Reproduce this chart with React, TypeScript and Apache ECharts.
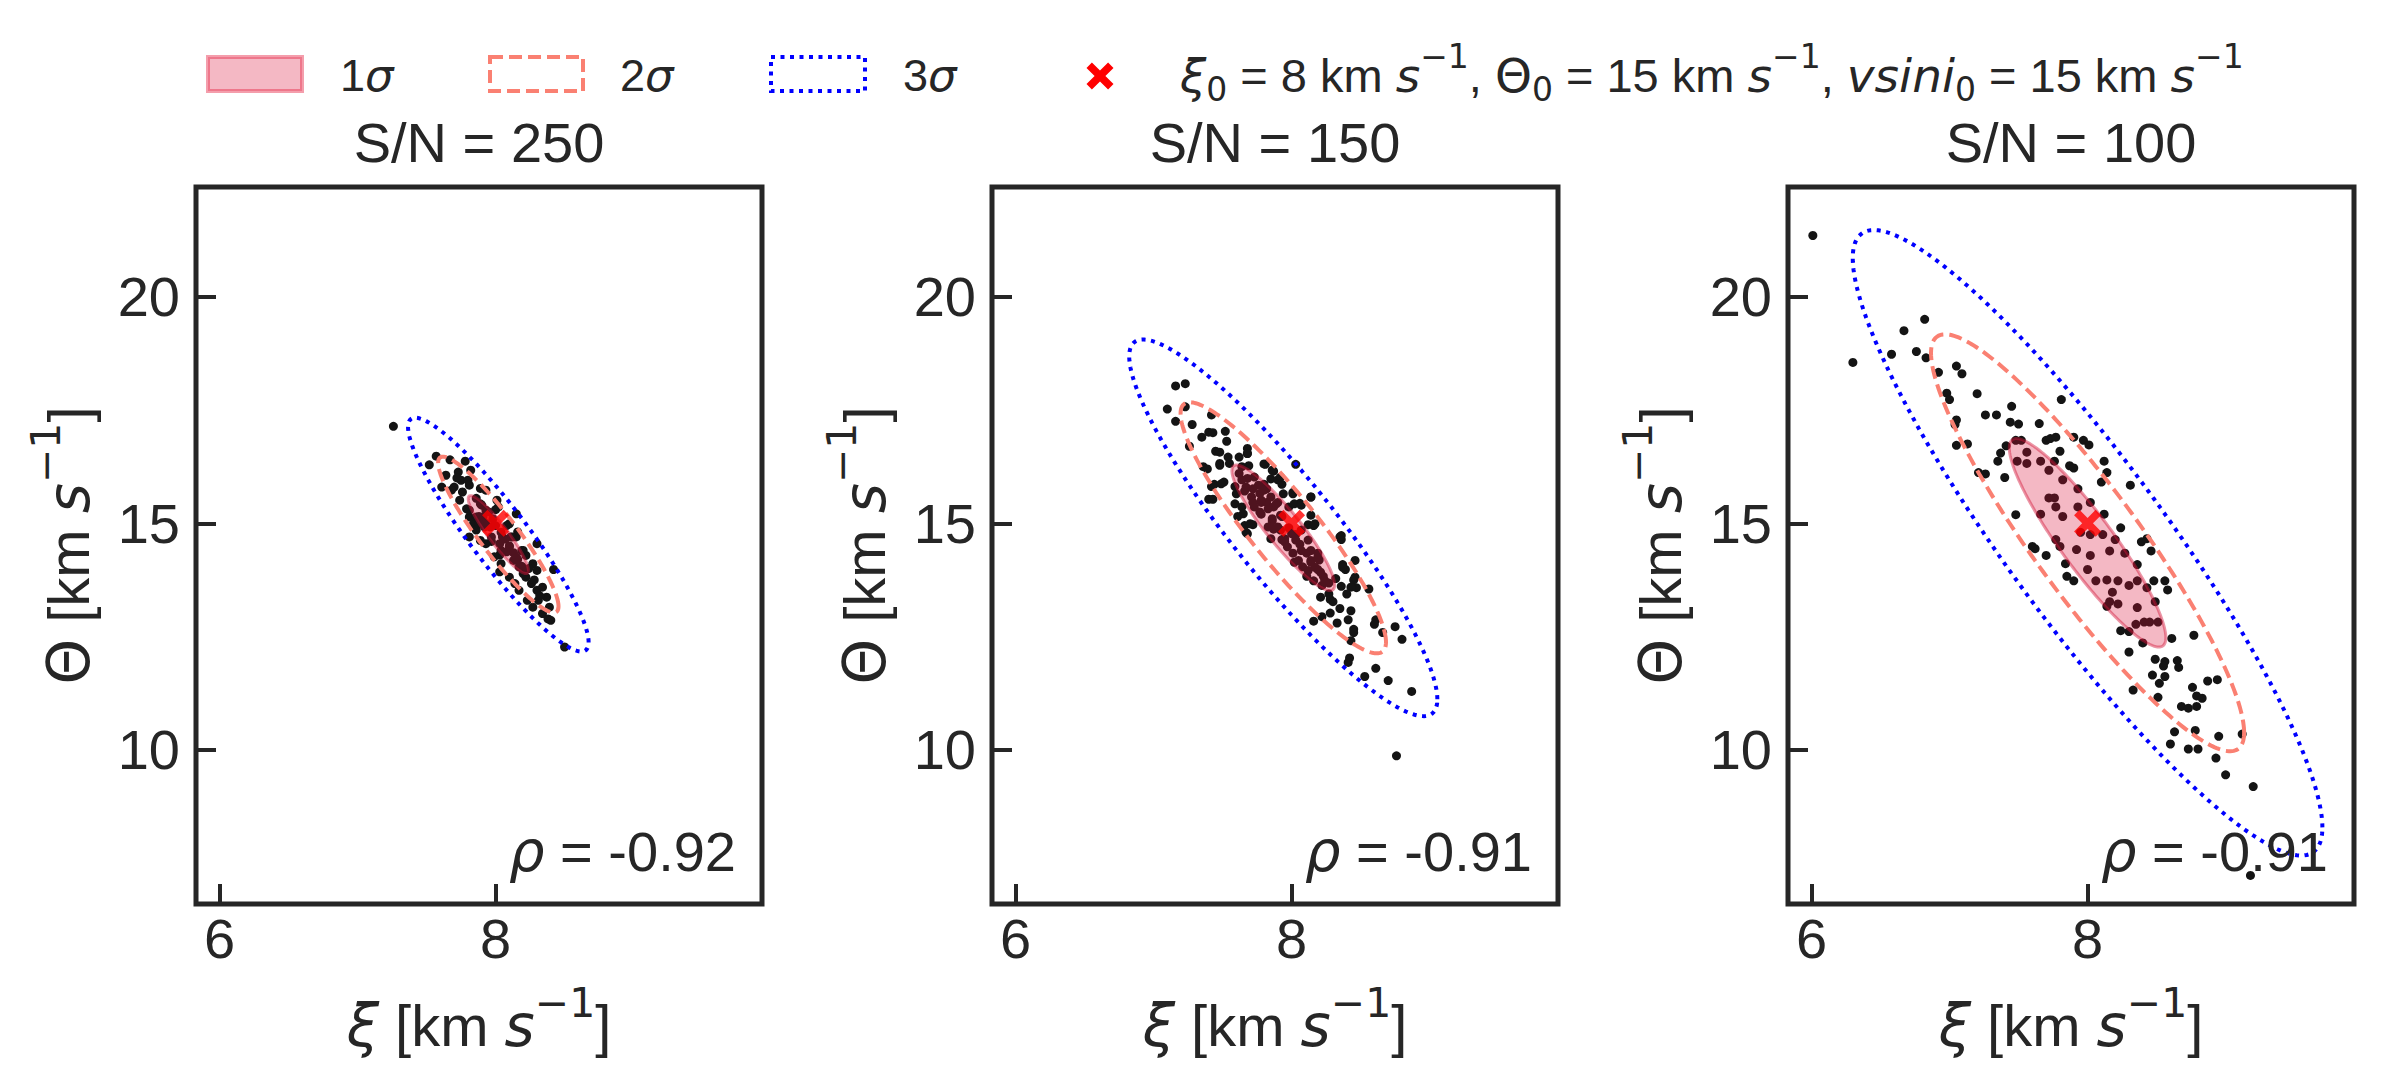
import React, { useEffect, useRef } from 'react';
import * as echarts from 'echarts';

const W = 2384;
const H = 1090;
const INK = '#262626';
const SANS = '"Liberation Sans", Arial, sans-serif';
const MATH = '"DejaVu Sans", sans-serif';

// ---- data ----
const panelTitles = ['S/N = 250', 'S/N = 150', 'S/N = 100'];
const rhoLabels = ['-0.92', '-0.91', '-0.91'];
const xTicks = [6, 8];
const yTicks = [10, 15, 20];
const xRange = [5.83, 9.93];
const yRange = [6.6, 22.42];
const truthPoint = [8, 15];
const sigmaLevels = [1, 2, 3];

// confidence-ellipse parameters per panel
const ellCenterX = [8.02, 7.94, 8.0];
const ellCenterY = [14.75, 14.9, 14.57];
const ellSigmaX = [0.218, 0.372, 0.567];
const ellSigmaY = [0.86, 1.385, 2.3];
const ellRho = [-0.92, -0.91, -0.91];

const samples250 = [
  [7.26, 17.14], [7.57, 16.48], [7.52, 16.29], [7.67, 16.4], [7.78, 16.37], [7.82, 16.17],
  [7.64, 16.06], [7.73, 16.13], [7.75, 15.95], [7.7, 15.8], [7.68, 15.73], [7.61, 15.8],
  [7.76, 15.69], [7.81, 15.84], [7.89, 15.77], [7.93, 15.73], [7.74, 15.51], [7.79, 15.32],
  [7.81, 15.14], [7.84, 14.99], [7.81, 14.7], [7.86, 14.85], [8.01, 15.51], [8.02, 15.36],
  [8.15, 15.21], [8.1, 14.99], [8.16, 14.81], [8.15, 14.7], [8.3, 14.55], [8.22, 14.29],
  [8.27, 14.11], [8.3, 13.96], [8.42, 13.98], [8.03, 13.93], [8.1, 13.81], [8.14, 13.67],
  [8.17, 13.52], [8.26, 13.67], [8.3, 13.52], [8.34, 13.59], [8.23, 13.3], [8.27, 13.15],
  [8.31, 13.3], [8.37, 13.37], [8.39, 13.15], [8.34, 13.01], [8.38, 12.89], [8.4, 12.86],
  [8.5, 12.27], [7.89, 15.43], [7.93, 15.29], [7.91, 15.14], [7.96, 14.92], [8.05, 14.7],
  [8.1, 14.48], [8.15, 14.26], [8.04, 14.4], [7.89, 14.62], [8.2, 13.96], [8.22, 13.81],
  [7.86, 15.55], [7.9, 15.4], [7.95, 15.25], [7.98, 15.1], [8.0, 14.95], [8.04, 14.8],
  [8.07, 14.65], [8.1, 14.5], [8.13, 14.35], [8.16, 14.2], [8.19, 14.05], [7.93, 15.0],
  [8.08, 14.95], [7.97, 14.6], [8.12, 14.7], [8.03, 14.3], [8.2, 14.4], [7.88, 15.15],
  [8.24, 14.0], [8.0, 15.3], [7.72, 16.0], [7.8, 15.95], [8.28, 13.75], [8.32, 13.4],
  [7.81, 15.29], [7.86, 15.14], [7.92, 14.92], [7.97, 14.7], [8.03, 14.55], [8.08, 14.37],
  [8.13, 14.18], [8.17, 14.04], [8.2, 13.89], [7.93, 14.55], [7.99, 14.26], [8.04, 14.11],
  [7.88, 14.99], [8.11, 14.7], [8.19, 14.4],
];

const samples150 = [
  [7.16, 18.03], [7.23, 18.08], [7.1, 17.52], [7.23, 17.57], [7.16, 17.25], [7.28, 17.18],
  [7.42, 17.39], [7.4, 17.01], [7.43, 17.0], [7.52, 17.03], [7.26, 16.7], [7.35, 16.9],
  [7.45, 16.59], [7.48, 16.57], [7.53, 16.81], [7.68, 16.65], [7.68, 16.54], [7.36, 16.25],
  [7.39, 16.2], [7.48, 16.32], [7.55, 16.32], [7.64, 16.25], [7.69, 16.27], [7.81, 16.3],
  [7.87, 16.15], [8.03, 16.3], [7.42, 15.81], [7.44, 15.86], [7.51, 15.91], [7.4, 15.53],
  [7.43, 15.53], [7.59, 15.81], [7.64, 15.96], [7.85, 15.98], [7.9, 15.96], [7.93, 15.86],
  [7.61, 15.15], [7.64, 15.36], [7.72, 15.46], [7.66, 14.95], [7.72, 14.97], [7.68, 14.77],
  [7.8, 15.86], [8.01, 15.68], [8.06, 15.44], [8.14, 15.58], [7.98, 15.36], [7.85, 14.66],
  [7.87, 14.87], [8.12, 14.97], [8.16, 14.95], [8.19, 14.34], [8.35, 14.7], [8.36, 14.64],
  [8.37, 14.09], [8.39, 13.98], [8.32, 13.78], [8.36, 13.61], [8.45, 13.75], [8.47, 13.58],
  [8.56, 13.55], [8.28, 13.32], [8.3, 13.27], [8.35, 13.12], [8.43, 13.07], [8.41, 12.87],
  [8.22, 12.94], [8.16, 12.84], [8.28, 13.02], [8.33, 12.8], [8.45, 12.66], [8.45, 12.59],
  [8.61, 12.87], [8.6, 12.77], [8.66, 12.59], [8.75, 12.72], [8.8, 12.44], [8.43, 12.41],
  [8.42, 12.03], [8.41, 11.93], [8.61, 11.8], [8.53, 11.62], [8.7, 11.53], [8.87, 11.29],
  [8.76, 9.87],
  [7.72, 15.76], [7.77, 15.66], [7.82, 15.46], [7.87, 15.36], [7.93, 15.15], [7.98, 14.9],
  [8.03, 14.75], [8.06, 14.54], [8.11, 14.34], [8.14, 14.14], [8.19, 13.98], [8.23, 13.83],
  [8.27, 13.68], [7.73, 15.36], [7.78, 15.2], [7.86, 15.05], [7.95, 14.59], [8.02, 14.14],
  [8.08, 14.04], [8.16, 13.73], [8.22, 13.63], [7.66, 15.71], [7.82, 15.76], [7.9, 15.46],
  [7.78, 15.46], [7.93, 14.64], [8.01, 14.34], [8.2, 14.19], [8.11, 13.83],
  [7.62, 16.1], [7.68, 15.99], [7.73, 16.02], [7.67, 15.8], [7.76, 15.84], [7.8, 15.73],
  [7.71, 15.58], [7.78, 15.51], [7.85, 15.58], [7.83, 15.32], [7.89, 15.43], [7.77, 15.25],
  [7.86, 15.1], [7.92, 15.18], [7.83, 14.92], [7.92, 14.85], [8.0, 14.77], [8.07, 14.85],
  [8.03, 14.63], [8.12, 14.63], [7.97, 14.48], [8.07, 14.4], [8.14, 14.4], [8.05, 14.18],
  [8.14, 14.18], [8.19, 14.25], [8.17, 14.03], [8.21, 13.92], [8.24, 13.74], [8.12, 13.96],
  [7.95, 14.66], [7.9, 14.92],
  [7.48, 16.28], [7.54, 16.46], [7.62, 16.46], [7.68, 16.54], [7.49, 15.87], [7.6, 15.65],
  [7.59, 15.43], [7.65, 15.21], [7.7, 14.99], [7.67, 14.8], [7.8, 16.31], [7.86, 16.17],
  [7.92, 16.02], [7.94, 15.65], [8.01, 15.65], [8.02, 15.43], [8.07, 15.4], [8.14, 15.58],
  [8.14, 15.18], [8.17, 14.99], [8.36, 14.73], [8.37, 14.03], [8.46, 13.81], [8.43, 13.59],
  [8.4, 13.44], [8.21, 13.37], [8.27, 13.44], [8.46, 14.18],
];

const samples100 = [
  [6.01, 21.35], [6.3, 18.55], [6.58, 18.73], [6.67, 19.25], [6.82, 19.5], [6.76, 18.79],
  [6.83, 18.65], [6.92, 18.33], [7.05, 18.47], [7.09, 18.3], [6.98, 17.87], [7.0, 17.73],
  [7.2, 17.86], [7.05, 17.28], [7.04, 17.18], [7.13, 16.75], [7.05, 16.72], [7.26, 17.39],
  [7.34, 17.39], [7.45, 17.58], [7.44, 17.23], [7.5, 17.19], [7.65, 17.2], [7.81, 17.73],
  [7.21, 16.12], [7.26, 16.09], [7.35, 16.37], [7.37, 16.55], [7.41, 16.71], [7.4, 16.01],
  [7.48, 16.83], [7.52, 16.83], [7.7, 16.83], [7.73, 16.87], [7.77, 16.9], [7.8, 16.59],
  [7.9, 16.9], [7.97, 16.83], [8.01, 16.73], [7.87, 16.27], [7.9, 16.22], [8.12, 16.37],
  [8.14, 16.12], [8.1, 15.91], [8.31, 15.84], [7.56, 16.57], [7.49, 16.37], [7.56, 16.32],
  [7.66, 16.37], [7.72, 16.17], [7.76, 16.37], [7.82, 15.96], [7.93, 15.76], [7.76, 15.56],
  [7.77, 15.36], [7.72, 15.56], [7.66, 15.2], [7.48, 15.19], [7.82, 15.15], [7.93, 15.36],
  [8.02, 15.46], [8.12, 15.2], [8.24, 14.9], [8.2, 14.64], [8.11, 14.75], [8.02, 14.75],
  [7.95, 14.8], [7.77, 14.64], [7.8, 14.49], [7.62, 14.44], [7.6, 14.49], [7.7, 14.29],
  [7.92, 14.42], [8.02, 14.29], [8.16, 14.39], [8.27, 14.34], [8.36, 14.09], [8.39, 14.59],
  [8.43, 14.66], [8.46, 14.39], [7.84, 14.11], [7.85, 13.83], [7.9, 13.73], [8.0, 13.98],
  [8.06, 13.73], [8.14, 13.75], [8.22, 13.73], [8.18, 13.48], [8.3, 13.63], [8.36, 13.73],
  [8.43, 13.58], [8.48, 13.73], [8.56, 13.73], [8.58, 13.53], [8.49, 13.27], [8.14, 13.17],
  [8.16, 13.27], [8.22, 13.22], [8.36, 13.14], [8.41, 12.82], [8.45, 12.82], [8.51, 12.82],
  [8.35, 12.77], [8.24, 12.63], [8.3, 12.61], [8.4, 12.36], [8.61, 12.46], [8.77, 12.53],
  [8.3, 12.16], [8.49, 12.0], [8.56, 11.95], [8.65, 11.97], [8.55, 11.85], [8.66, 11.82],
  [8.47, 11.65], [8.56, 11.62], [8.52, 11.47], [8.51, 11.16], [8.33, 11.32], [8.76, 11.38],
  [8.87, 11.52], [8.94, 11.55], [8.79, 11.19], [8.83, 11.14], [8.68, 10.96], [8.73, 10.92],
  [8.79, 10.96], [8.63, 10.4], [8.78, 10.43], [8.6, 10.13], [8.73, 10.02], [8.8, 10.02],
  [8.95, 10.3], [8.93, 9.82], [9.12, 10.35], [9.0, 9.45], [9.2, 9.19], [9.18, 7.23],
];

const panelSamples = [samples250, samples150, samples100];

// ---- layout (pixels) ----
const gridLeft = [196, 992, 1788];
const gridTop = 187;
const gridW = 566;
const gridH = 717;

const X_PATH = 'path://M2,0L5,3L8,0L10,2L7,5L10,8L8,10L5,7L2,10L0,8L3,5L0,2Z';

const levelStyle = [
  { fill: 'rgba(220,20,60,0.3)', stroke: 'rgba(210,20,55,0.45)', lineWidth: 3, lineDash: null as any },
  { fill: 'none', stroke: '#fa8072', lineWidth: 4, lineDash: [13, 6] },
  { fill: 'none', stroke: '#0000ff', lineWidth: 4, lineDash: [4, 5.5] },
];

function rich(size: number) {
  const s = Math.round(size * 0.7);
  return {
    i: { fontFamily: MATH, fontStyle: 'italic', fontSize: size, color: INK },
    u: { fontFamily: MATH, fontSize: size, color: INK },
    sup: { fontFamily: MATH, fontSize: s, color: INK, padding: [0, 0, Math.round(size * 0.8), 0] },
    sub: { fontFamily: MATH, fontSize: s, color: INK, padding: [Math.round(size * 0.6), 0, 0, 0] },
  };
}

function buildOption() {
  const grid = gridLeft.map((l) => ({
    left: l,
    top: gridTop,
    width: gridW,
    height: gridH,
    show: true,
    borderColor: INK,
    borderWidth: 5,
    backgroundColor: 'transparent',
  }));

  const axisFont = { fontFamily: SANS, fontSize: 56, color: INK };

  const xAxis = gridLeft.map((_, i) => ({
    gridIndex: i,
    type: 'value',
    min: xRange[0],
    max: xRange[1],
    axisLine: { show: false },
    splitLine: { show: false },
    axisTick: { show: true, inside: true, length: 20, lineStyle: { color: INK, width: 4 }, customValues: xTicks },
    axisLabel: { show: true, customValues: xTicks, margin: 6, ...axisFont },
    name: '{i|ξ} [km {i|s}{sup|−1}]',
    nameLocation: 'middle',
    nameGap: 78,
    nameTextStyle: { fontFamily: SANS, fontSize: 58, color: INK, rich: rich(58) },
  }));

  const yAxis = gridLeft.map((_, i) => ({
    gridIndex: i,
    type: 'value',
    min: yRange[0],
    max: yRange[1],
    axisLine: { show: false },
    splitLine: { show: false },
    axisTick: { show: true, inside: true, length: 20, lineStyle: { color: INK, width: 4 }, customValues: yTicks },
    axisLabel: { show: true, customValues: yTicks, margin: 16, ...axisFont },
    name: '{u|Θ} [km {i|s}{sup|−1}]',
    nameLocation: 'middle',
    nameRotate: 90,
    nameGap: 84,
    nameTextStyle: { fontFamily: SANS, fontSize: 58, color: INK, rich: rich(58) },
  }));

  const series: any[] = [];
  gridLeft.forEach((_, i) => {
    series.push({
      type: 'scatter',
      xAxisIndex: i,
      yAxisIndex: i,
      data: panelSamples[i],
      symbolSize: 9,
      itemStyle: { color: '#141414', opacity: 1 },
      silent: true,
      z: 2,
    });
    sigmaLevels.forEach((n, k) => {
      const st = levelStyle[k];
      series.push({
        type: 'custom',
        xAxisIndex: i,
        yAxisIndex: i,
        data: [[ellCenterX[i], ellCenterY[i]]],
        silent: true,
        clip: false,
        z: 3 + (2 - k) * 0.1,
        renderItem: (params: any, api: any) => {
          const cx = api.value(0);
          const cy = api.value(1);
          const sx = ellSigmaX[i];
          const sy = ellSigmaY[i];
          const r = ellRho[i];
          const pts: number[][] = [];
          const N = 240;
          for (let j = 0; j < N; j++) {
            const t = (j / N) * Math.PI * 2;
            const u = n * Math.cos(t);
            const v = n * (r * Math.cos(t) + Math.sqrt(1 - r * r) * Math.sin(t));
            pts.push(api.coord([cx + sx * u, cy + sy * v]));
          }
          return {
            type: 'polygon',
            shape: { points: pts },
            style: {
              fill: st.fill,
              stroke: st.stroke,
              lineWidth: st.lineWidth,
              lineDash: st.lineDash || undefined,
              lineCap: 'butt',
            },
          };
        },
      });
    });
    series.push({
      type: 'scatter',
      xAxisIndex: i,
      yAxisIndex: i,
      data: [truthPoint],
      symbol: X_PATH,
      symbolSize: 27,
      itemStyle: { color: '#ff0000' },
      silent: true,
      z: 5,
    });
  });

  const graphic: any[] = [];
  gridLeft.forEach((l, i) => {
    graphic.push({
      type: 'text',
      x: l + gridW / 2,
      y: 142,
      style: { text: panelTitles[i], fontFamily: SANS, fontSize: 56, fill: INK, align: 'center', verticalAlign: 'middle' },
      z: 10,
    });
    graphic.push({
      type: 'text',
      x: l + gridW - 26,
      y: 851,
      style: {
        text: '{i|ρ} = ' + rhoLabels[i],
        fontFamily: SANS,
        fontSize: 56,
        fill: INK,
        align: 'right',
        verticalAlign: 'middle',
        rich: rich(56),
      },
      z: 10,
    });
  });

  // legend
  const legY = 57;
  const legH = 34;
  graphic.push({
    type: 'rect',
    shape: { x: 208, y: legY, width: 94, height: legH },
    style: { fill: 'rgba(220,20,60,0.3)', stroke: 'rgba(230,40,70,0.45)', lineWidth: 4 },
  });
  graphic.push({
    type: 'rect',
    shape: { x: 490, y: legY, width: 93, height: legH },
    style: { fill: 'none', stroke: '#fa8072', lineWidth: 4, lineDash: [13, 6] },
  });
  graphic.push({
    type: 'rect',
    shape: { x: 771, y: legY, width: 94, height: legH },
    style: { fill: 'none', stroke: '#0000ff', lineWidth: 4, lineDash: [4, 5.5] },
  });
  const legLabels = ['1', '2', '3'];
  const legTextX = [340, 620, 903];
  legLabels.forEach((d, k) => {
    graphic.push({
      type: 'text',
      x: legTextX[k],
      y: 75,
      style: {
        text: d + '{i|σ}',
        fontFamily: SANS,
        fontSize: 45,
        fill: INK,
        align: 'left',
        verticalAlign: 'middle',
        rich: rich(45),
      },
    });
  });
  // red x legend marker
  const mx = 1100;
  const my = 76;
  const ms = 2.7;
  const xShape = [[2, 0], [5, 3], [8, 0], [10, 2], [7, 5], [10, 8], [8, 10], [5, 7], [2, 10], [0, 8], [3, 5], [0, 2]];
  graphic.push({
    type: 'polygon',
    shape: { points: xShape.map(([a, b]) => [mx + (a - 5) * ms, my + (b - 5) * ms]) },
    style: { fill: '#ff0000' },
  });
  graphic.push({
    type: 'text',
    x: 1180,
    y: 75,
    style: {
      text:
        '{i|ξ}{sub|0} = 8 km {i|s}{sup|−1}, {u|Θ}{sub|0} = 15 km {i|s}{sup|−1}, {i|vsini}{sub|0} = 15 km {i|s}{sup|−1}',
      fontFamily: SANS,
      fontSize: 47,
      fill: INK,
      align: 'left',
      verticalAlign: 'middle',
      rich: rich(47),
    },
  });

  return {
    animation: false,
    backgroundColor: '#ffffff',
    grid,
    xAxis,
    yAxis,
    series,
    graphic,
  };
}

export default function App() {
  const ref = useRef<HTMLDivElement>(null);
  useEffect(() => {
    if (!ref.current) return;
    const chart = echarts.init(ref.current, null, { renderer: 'svg', width: W, height: H });
    chart.setOption(buildOption() as any);
    return () => {
      chart.dispose();
    };
  }, []);
  return (
    <div
      ref={ref}
      style={{ position: 'absolute', left: 0, top: 0, width: W, height: H, background: '#ffffff' }}
    />
  );
}
